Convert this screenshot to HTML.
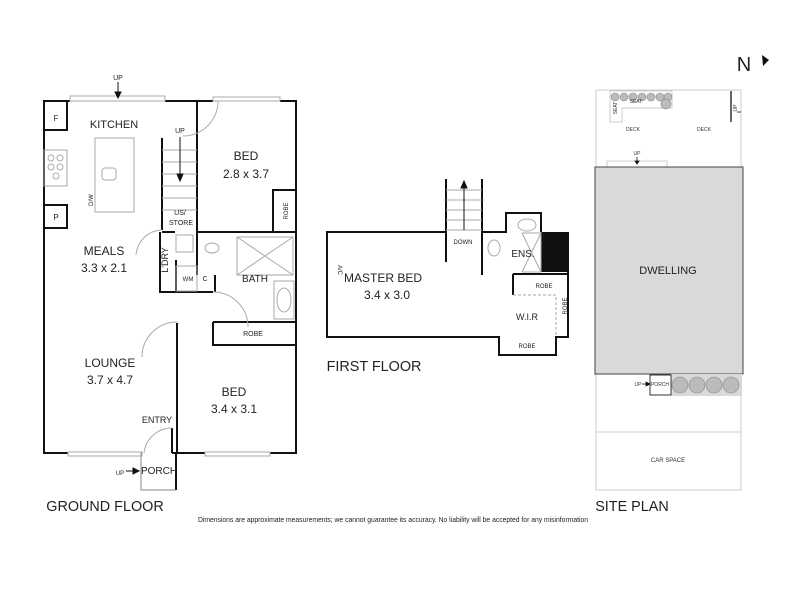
<!DOCTYPE html>
<html><head><meta charset="utf-8"><style>
html,body{margin:0;padding:0;background:#fff;}
svg{display:block;font-family:"Liberation Sans",sans-serif;}
</style></head><body>
<svg width="800" height="600" viewBox="0 0 800 600" xmlns="http://www.w3.org/2000/svg">
<rect width="800" height="600" fill="#fff"/>
<g stroke="#111" fill="none" stroke-width="2">
<path d="M70 101 H44 V453 H68 M142 453 H141 M172 453 H205 M270 453 H296 V101 H280 M213 101 H197 M165 101 H197"/>
<path d="M162 138 V230 M197 101 V232 H296"/>
<path d="M162 232 H175 M160 232 V292 H213 M176 292 V260"/>
<path d="M273 232 V190 H296"/>
<path d="M197 232 V275 M215 275 V292"/>
<path d="M177 323 V453 M213 322 H296 M213 322 V345 H296"/>
<path d="M176 453 V490"/>
<path d="M44 130 H67 V101 M44 205 H67 V228 H44"/>
<path d="M172 428 V453"/>
</g>
<path d="M141 453 V490 H176" stroke="#888" stroke-width="1" fill="none"/>
<g stroke="#aaa" fill="none" stroke-width="1">
<rect x="70" y="96" width="95" height="5"/><rect x="213" y="97" width="67" height="4"/>
<rect x="68" y="452" width="74" height="4"/><rect x="205" y="452" width="65" height="4"/>
<rect x="95" y="138" width="39" height="74"/>
<rect x="44" y="150" width="23" height="36"/>
<circle cx="51" cy="158" r="3"/><circle cx="60" cy="158" r="3"/><circle cx="51" cy="167" r="3"/><circle cx="60" cy="167" r="3"/><circle cx="56" cy="176" r="3"/>
<rect x="102" y="168" width="14" height="12" rx="3"/>
<path d="M162 150 H197 M162 162 H197 M162 174 H197 M162 186 H197 M162 198 H197 M162 210 H197"/>
<path d="M218 101 A35 35 0 0 1 183 136"/>
<path d="M162 230 A27 27 0 0 0 136 255"/>
<path d="M237 237 H293 V275 H237 Z M237 237 L293 275 M293 237 L237 275"/>
<rect x="274" y="281" width="20" height="38"/>
<ellipse cx="284" cy="300" rx="7" ry="12"/>
<path d="M177 322 A35 35 0 0 0 142 357"/>
<path d="M213 292 A35 35 0 0 1 248 327"/>
<path d="M172 428 A28 28 0 0 0 144 453"/>
<rect x="176" y="235" width="17" height="17"/>
<rect x="176" y="266" width="21" height="25"/>
<ellipse cx="212" cy="248" rx="7" ry="5"/>
</g>
<g font-size="11" fill="#222" text-anchor="middle">
<text x="114" y="128">KITCHEN</text>
<text x="246" y="160" font-size="12">BED</text><text x="246" y="178" font-size="12">2.8 x 3.7</text>
<text x="104" y="255" font-size="12">MEALS</text><text x="104" y="272" font-size="12">3.3 x 2.1</text>
<text x="110" y="367" font-size="12">LOUNGE</text><text x="110" y="384" font-size="12">3.7 x 4.7</text>
<text x="234" y="396" font-size="12">BED</text><text x="234" y="413" font-size="12">3.4 x 3.1</text>
<text x="255" y="282" font-size="10">BATH</text>
<text x="157" y="423" font-size="9">ENTRY</text>
<text x="159" y="474" font-size="10">PORCH</text>
<text x="120" y="475" font-size="6">UP</text>
<text x="180" y="215" font-size="7">US/</text><text x="181" y="225" font-size="7">STORE</text>
<text x="180" y="133" font-size="7">UP</text>
<text x="118" y="80" font-size="7">UP</text>
<text x="56" y="121" font-size="8">F</text><text x="56" y="220" font-size="8">P</text>
<text x="188" y="281" font-size="6">WM</text><text x="205" y="281" font-size="7">C</text>
<text x="253" y="336" font-size="7">ROBE</text>
<text transform="translate(288 211) rotate(-90)" font-size="6">ROBE</text>
<text transform="translate(168 260) rotate(-90)" font-size="9">L'DRY</text>
<text transform="translate(93 200) rotate(-90)" font-size="6">D/W</text>
</g>
<g stroke="#111" stroke-width="1" fill="#111">
<path d="M118 82 V95"/><path d="M115 92 L118 98 L121 92Z"/>
<path d="M180 137 V178"/><path d="M177 174 L180 181 L183 174Z"/>
<path d="M126 471 H136"/><path d="M133 468 L139 471 L133 474Z"/>
</g>

<g stroke="#111" fill="none" stroke-width="2">
<path d="M446 232 H327 V337 H499 V355 H556 V337 H568 V232 M446 179 V262 M482 179 V232 H506 V213 H541 V232 M482 232 V275"/>
<path d="M513 274 V295 M513 274 H568"/>
</g>
<rect x="541" y="232" width="27" height="40" fill="#111"/>
<g stroke="#aaa" fill="none" stroke-width="1">
<path d="M446 190 H482 M446 200 H482 M446 210 H482 M446 220 H482 M446 230 H482"/>
<path d="M541 272 V232 M522 233 H541 V272 H522 M522 233 L541 272 M541 233 L522 272"/>
<ellipse cx="527" cy="225" rx="9" ry="6"/>
<ellipse cx="494" cy="248" rx="6" ry="8"/>
<path d="M513 295 H556 V337" stroke-dasharray="3 2"/>
</g>
<g stroke="#111" stroke-width="1" fill="#111">
<path d="M464 230 V185"/><path d="M461 188 L464 181 L467 188Z"/>
</g>
<g font-size="11" fill="#222" text-anchor="middle">
<text x="383" y="282" font-size="12">MASTER BED</text><text x="387" y="299" font-size="12">3.4 x 3.0</text>
<text x="523" y="257" font-size="10">ENS.</text>
<text x="463" y="244" font-size="6">DOWN</text>
<text x="544" y="288" font-size="6">ROBE</text>
<text x="527" y="348" font-size="6">ROBE</text>
<text x="527" y="320" font-size="9">W.I.R</text>
<text transform="translate(567 306) rotate(-90)" font-size="6">ROBE</text>
<text transform="translate(338 270) rotate(90)" font-size="6">A/C</text>
<text x="374" y="371" font-size="15" transform="translate(374 0) scale(0.96 1) translate(-374 0)">FIRST FLOOR</text>
<text x="105" y="511" font-size="15" transform="translate(105 0) scale(0.96 1) translate(-105 0)">GROUND FLOOR</text>
<text x="632" y="511" font-size="15" transform="translate(632 0) scale(0.96 1) translate(-632 0)">SITE PLAN</text>
<text x="393" y="522" font-size="7" transform="translate(393 0) scale(0.97 1) translate(-393 0)">Dimensions are approximate measurements; we cannot guarantee its accuracy. No liability will be accepted for any misinformation</text>
<text x="744" y="71" font-size="20">N</text>
</g>
<path d="M762 55 L769 60 L763 66 Z" fill="#111"/>

<g stroke="#ccc" fill="none" stroke-width="1">
<path d="M596 90 V490 H741 V90 H596"/>
<path d="M596 432 H741"/>
<path d="M610 122 V91 H672 V108 H622 V122 Z"/>
<rect x="607" y="161" width="60" height="6"/>
</g>
<rect x="595" y="167" width="148" height="207" fill="#d9d9d9" stroke="#444" stroke-width="1"/>
<rect x="671" y="374" width="71" height="22" fill="#d9d9d9"/>
<g fill="#bbb" stroke="#888" stroke-width="0.6">
<circle cx="615" cy="97" r="4"/><circle cx="624" cy="97" r="4"/><circle cx="633" cy="97" r="4"/><circle cx="642" cy="97" r="4"/><circle cx="651" cy="97" r="4"/><circle cx="660" cy="97" r="4"/><circle cx="668" cy="97" r="4"/><circle cx="666" cy="104" r="5"/>
<circle cx="680" cy="385" r="8"/><circle cx="697" cy="385" r="8"/><circle cx="714" cy="385" r="8"/><circle cx="731" cy="385" r="8"/>
</g>
<path d="M731 91 V122" stroke="#333" stroke-width="1.5"/>
<rect x="650" y="375" width="21" height="20" fill="#fff" stroke="#333"/>
<g font-size="5" fill="#333" text-anchor="middle">
<text x="636" y="103">SEAT</text>
<text x="633" y="131">DECK</text><text x="704" y="131">DECK</text>
<text x="637" y="155">UP</text>
<text x="660" y="386">PORCH</text>
<text x="638" y="386">UP</text>
<text x="668" y="462" font-size="6">CAR SPACE</text>
<text transform="translate(617 108) rotate(-90)">SEAT</text>
<text transform="translate(737 108) rotate(-90)">UP</text>
</g>
<text x="668" y="274" font-size="11" fill="#222" text-anchor="middle" font-family="Liberation Sans">DWELLING</text>
<g stroke="#111" stroke-width="0.8" fill="#111">
<path d="M637 157 V163"/><path d="M635 161 L637 164 L639 161Z"/>
<path d="M642 384 H648"/><path d="M646 382 L650 384 L646 386Z"/>
<path d="M737 112 H741"/>
</g>
</svg>
</body></html>
